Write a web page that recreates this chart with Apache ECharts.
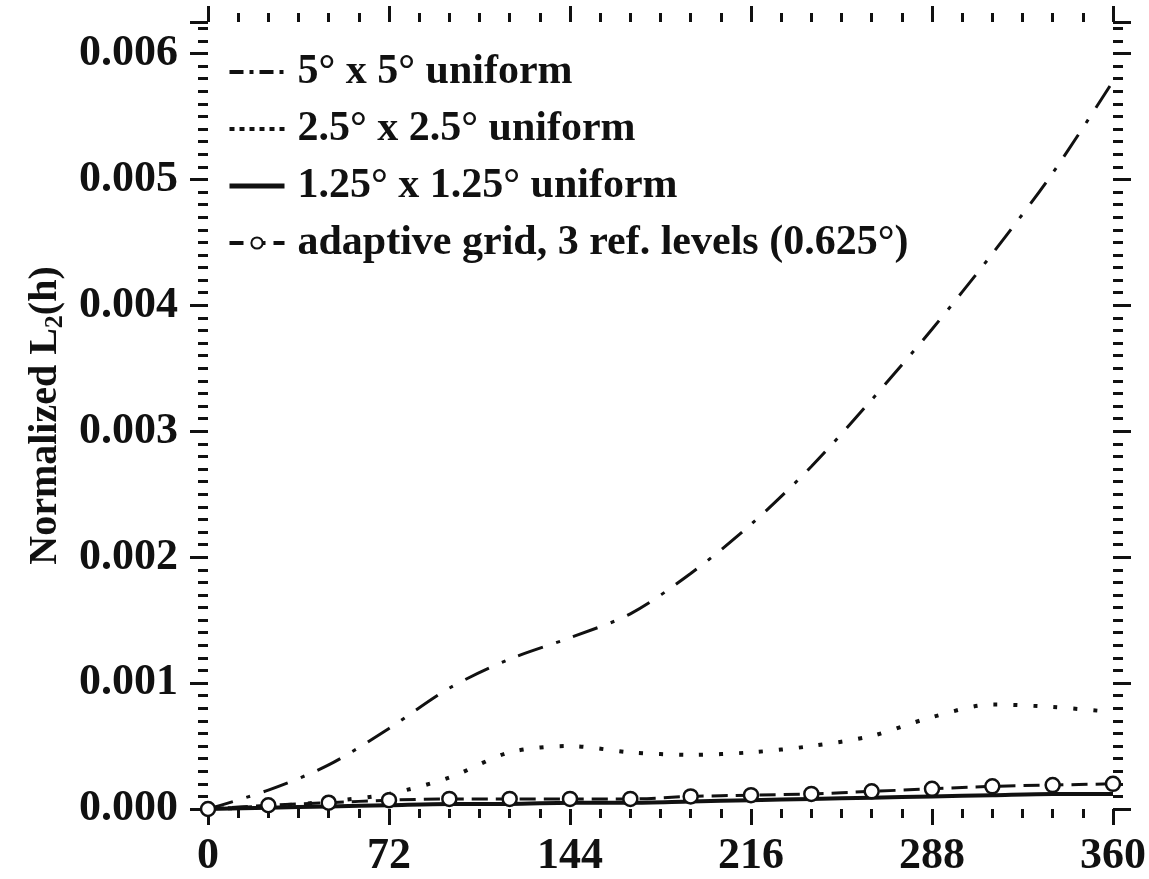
<!DOCTYPE html>
<html>
<head>
<meta charset="utf-8">
<script src="https://cdn.jsdelivr.net/npm/echarts@6/dist/echarts.min.js"></script>
<style>
html,body{margin:0;padding:0;background:#fff;}
#chart{width:1149px;height:879px;}
</style>
</head>
<body>
<div id="chart"></div>
<script>
// x positions (degrees / time units)
const xValues = [0, 24, 48, 72, 96, 120, 144, 168, 192, 216, 240, 264, 288, 312, 336, 360];
// 5° x 5° uniform
const uniform5 = [0, 0.00015, 0.00035, 0.00064, 0.00096, 0.00119, 0.00136, 0.00155, 0.00187, 0.00226, 0.00272, 0.00325, 0.00381, 0.00441, 0.00505, 0.00578];
// 2.5° x 2.5° uniform
const uniform25 = [0, 0.00002, 0.00006, 0.00012, 0.00025, 0.00045, 0.00050, 0.00045, 0.00043, 0.00045, 0.00050, 0.00058, 0.00073, 0.00083, 0.00081, 0.00077];
// 1.25° x 1.25° uniform
const uniform125 = [0, 0.00001, 0.00002, 0.00003, 0.00004, 0.00004, 0.00005, 0.00005, 0.00006, 0.00007, 0.00008, 0.00009, 0.00010, 0.00011, 0.00012, 0.00012];
// adaptive grid, 3 ref. levels
const adaptive = [0, 0.00003, 0.00005, 0.00007, 0.00008, 0.00008, 0.00008, 0.00008, 0.00010, 0.00011, 0.00012, 0.00014, 0.00016, 0.00018, 0.00019, 0.00020];

const seriesNames = ['5\u00b0 x 5\u00b0 uniform', '2.5\u00b0 x 2.5\u00b0 uniform', '1.25\u00b0 x 1.25\u00b0 uniform', 'adaptive grid, 3 ref. levels (0.625\u00b0)'];
const xTicks = [0, 72, 144, 216, 288, 360];
const yTicks = [0, 0.001, 0.002, 0.003, 0.004, 0.005, 0.006];

const pairs = arr => xValues.map((x, i) => [x, arr[i]]);
const FONT = 'Liberation Serif';
const INK = '#111';

const chart = echarts.init(document.getElementById('chart'), null, {renderer: 'canvas'});

function xAxisDef(pos, labels) {
  return {
    type: 'value', min: 0, max: 360, interval: 72, position: pos, gridIndex: 0,
    axisLine: {show: false, onZero: false},
    axisTick: {show: true, inside: false, length: 16, lineStyle: {color: INK, width: 3}},
    minorTick: {show: true, splitNumber: 6, length: 9, lineStyle: {color: INK, width: 3}},
    splitLine: {show: false}, minorSplitLine: {show: false},
    axisLabel: labels ? {
      show: true, margin: 26, fontFamily: FONT, fontWeight: 'bold', fontSize: 44, color: INK,
      formatter: v => xTicks.indexOf(v) >= 0 ? String(v) : ''
    } : {show: false}
  };
}
function yAxisDef(pos, labels) {
  const ax = {
    type: 'value', min: 0, max: 0.00625, interval: 0.001, position: pos, gridIndex: 0,
    axisLine: {show: false, onZero: false},
    axisTick: {show: true, inside: false, length: 18, lineStyle: {color: INK, width: 3}},
    minorTick: {show: true, splitNumber: 10, length: 10, lineStyle: {color: INK, width: 3}},
    splitLine: {show: false}, minorSplitLine: {show: false},
    axisLabel: labels ? {
      show: true, margin: 30, fontFamily: FONT, fontWeight: 'bold', fontSize: 44, color: INK,
      showMaxLabel: false,
      formatter: v => {
        const k = Math.round(v / 0.001);
        return (Math.abs(v - k * 0.001) < 1e-9 && yTicks.indexOf(k / 1000) >= 0) ? (k * 0.001).toFixed(3) : '';
      }
    } : {show: false}
  };
  if (labels) {
    ax.name = '{a|Normalized L}{s|2}{a|(h)}';
    ax.nameLocation = 'middle';
    ax.nameGap = 140;
    ax.nameRotate = 90;
    ax.nameTextStyle = {
      rich: {
        a: {fontFamily: FONT, fontWeight: 'bold', fontSize: 40, color: INK},
        s: {fontFamily: FONT, fontWeight: 'bold', fontSize: 26, color: INK, verticalAlign: 'bottom', padding: [18, 0, 0, 0]}
      }
    };
  }
  return ax;
}

const hiddenSymbol = {color: 'rgba(0,0,0,0)', borderColor: 'rgba(0,0,0,0)', borderWidth: 0, opacity: 0};

const option = {
  animation: false,
  backgroundColor: '#fff',
  grid: {left: 208, right: 34, top: 22, bottom: 69, containLabel: false},
  legend: {
    orient: 'vertical', left: 222, top: 46,
    itemWidth: 55, itemHeight: 14, itemGap: 15,
    data: [
      {name: seriesNames[0], itemStyle: hiddenSymbol, lineStyle: {type: [14, 6, 4, 6], width: 4}},
      {name: seriesNames[1], itemStyle: hiddenSymbol, lineStyle: {type: [5, 5], width: 4}},
      {name: seriesNames[2], itemStyle: hiddenSymbol, lineStyle: {width: 5}},
      {name: seriesNames[3], lineStyle: {type: [14, 8], width: 4}}
    ],
    textStyle: {fontFamily: FONT, fontWeight: 'bold', fontSize: 42, color: INK, lineHeight: 42, padding: [0, 0, 0, 8]}
  },
  xAxis: [xAxisDef('bottom', true), xAxisDef('top', false)],
  yAxis: [yAxisDef('left', true), yAxisDef('right', false)],
  series: [
    {
      name: seriesNames[0], type: 'line', xAxisIndex: 0, yAxisIndex: 0,
      data: pairs(uniform5), smooth: 0.3, showSymbol: false, symbol: 'none',
      lineStyle: {color: INK, width: 3, type: [26, 14, 4, 14]},
      itemStyle: {color: INK}
    },
    {
      name: seriesNames[1], type: 'line', xAxisIndex: 0, yAxisIndex: 0,
      data: pairs(uniform25), smooth: 0.3, showSymbol: false, symbol: 'none',
      lineStyle: {color: INK, width: 4, type: [4, 16]},
      itemStyle: {color: INK}
    },
    {
      name: seriesNames[2], type: 'line', xAxisIndex: 0, yAxisIndex: 0,
      data: pairs(uniform125), smooth: 0.3, showSymbol: false, symbol: 'none',
      lineStyle: {color: INK, width: 4, type: 'solid'},
      itemStyle: {color: INK}
    },
    {
      name: seriesNames[3], type: 'line', xAxisIndex: 0, yAxisIndex: 0,
      data: pairs(adaptive), smooth: 0.3, symbol: 'circle', symbolSize: 14, showSymbol: true,
      lineStyle: {color: INK, width: 3, type: [16, 8]},
      itemStyle: {color: '#fff', borderColor: INK, borderWidth: 2.5}
    },
    {
      // frame-only companion so the top/right mirror axes are laid out
      name: 'frame', type: 'line', xAxisIndex: 1, yAxisIndex: 1,
      data: [], showSymbol: false, symbol: 'none', silent: true,
      lineStyle: {opacity: 0}
    }
  ]
};
chart.setOption(option);
</script>
</body>
</html>
